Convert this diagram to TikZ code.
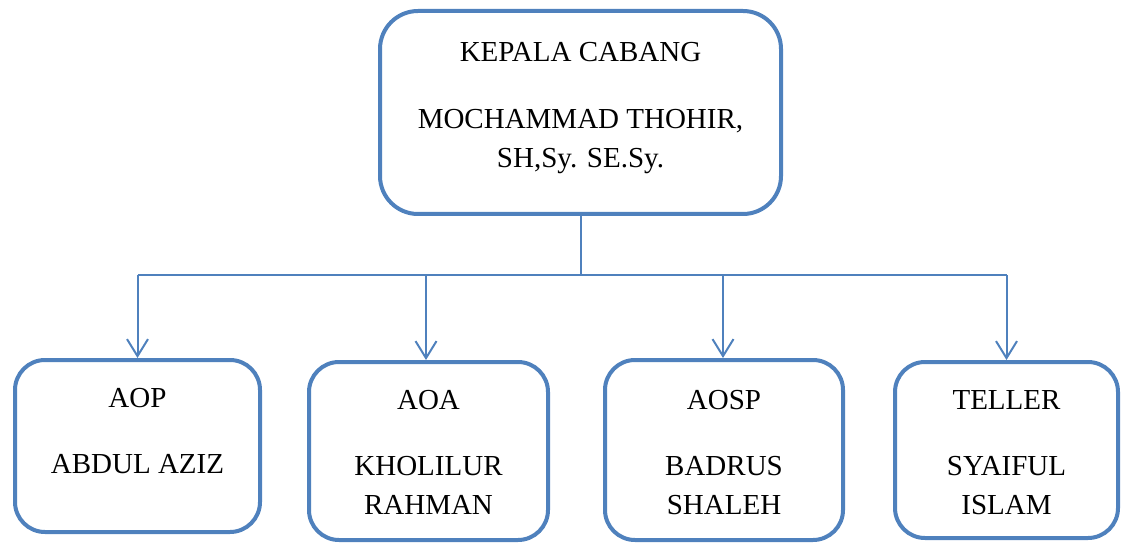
\documentclass[tikz,border=0pt]{standalone}
\usepackage{fontspec}
\setmainfont{Liberation Serif}
\usetikzlibrary{arrows.meta}
\definecolor{boxblue}{RGB}{79,129,189}
\tikzset{
  orgbox/.style={draw=boxblue, line width=4pt, fill=white, rounded corners=30pt, inner sep=0pt},
  topbox/.style={orgbox, rounded corners=38pt},
  boxtext/.style={anchor=north, inner sep=0pt, align=center, text=black,
    font=\fontsize{29}{39}\selectfont},
  link/.style={draw=boxblue, line width=2pt},
  arrowlink/.style={link, -{Straight Barb[length=17pt,width=21pt,line width=2pt]}}
}
\begin{document}
\begin{tikzpicture}[x=1pt,y=-1pt]
\useasboundingbox (0,0) rectangle (1123,545);
% boxes
\node[topbox, minimum width=401pt, minimum height=203pt] (top) at (580.5,112.5) {};
\node[orgbox, minimum width=245pt, minimum height=172pt] (b1) at (137.5,446) {};
\node[orgbox, minimum width=239pt, minimum height=178pt] (b2) at (428.5,451) {};
\node[orgbox, minimum width=238pt, minimum height=180pt] (b3) at (724,450) {};
\node[orgbox, minimum width=223pt, minimum height=176pt] (b4) at (1006.5,450) {};
% texts
\node[boxtext] (ttop) at (580.5,42) {KEPALA CABANG\\[28pt]MOCHAMMAD THOHIR,\\SH,Sy. SE.Sy.};
\node[boxtext] (t1) at (137.5,388) {AOP\\[27pt]ABDUL AZIZ};
\node[boxtext] (t2) at (428.5,390) {AOA\\[27pt]KHOLILUR\\RAHMAN};
\node[boxtext] (t3) at (724,390) {AOSP\\[27pt]BADRUS\\SHALEH};
\node[boxtext] (t4) at (1006.5,390) {TELLER\\[27pt]SYAIFUL\\ISLAM};
% connectors
\coordinate (jt) at (580.5,275);
\coordinate (j1) at (137.5,275);
\coordinate (j2) at (426,275);
\coordinate (j3) at (723,275);
\coordinate (j4) at (1006.5,275);
\draw[link] (top.south) -- (jt);
\draw[link] (j1) -- (j4);
\draw[arrowlink] (j1) -- (j1 |- b1.north);
\draw[arrowlink] (j2) -- (j2 |- b2.north);
\draw[arrowlink] (j3) -- (j3 |- b3.north);
\draw[arrowlink] (j4) -- (j4 |- b4.north);
\end{tikzpicture}
\end{document}
